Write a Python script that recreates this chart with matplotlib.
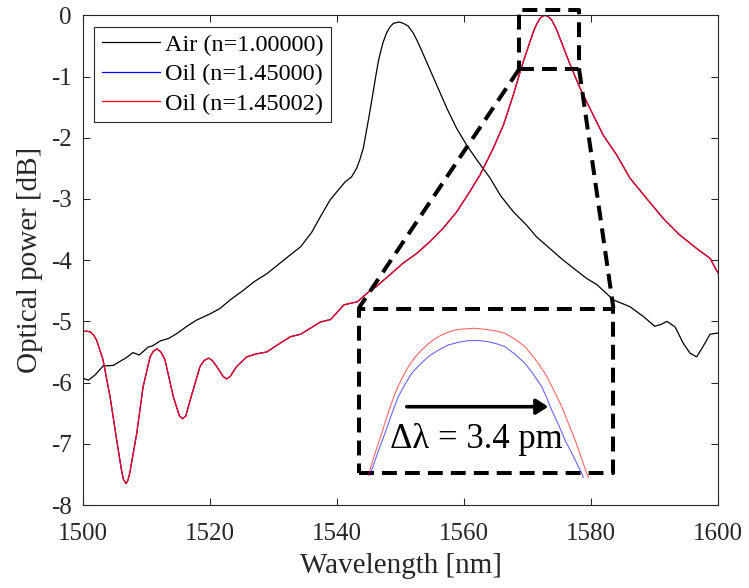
import matplotlib
matplotlib.use("Agg")
import matplotlib.pyplot as plt
from matplotlib.patches import FancyArrowPatch

plt.rcParams['font.family'] = ['Liberation Serif', 'DejaVu Serif']
plt.rcParams['axes.unicode_minus'] = False

# ---------------- data ----------------
air_wl = [1500, 1500.9, 1501.9, 1503.2, 1504.8, 1506.1, 1506.9, 1507.9, 1508.9, 1510.3,
          1511.0, 1512.2, 1513.5, 1514.8, 1516.4, 1517.9, 1520.0, 1521.6, 1523.2, 1525.3,
          1527.0, 1529.0, 1531.5, 1534.3, 1536.0, 1537.4, 1538.9, 1540.0, 1541.3, 1542.3,
          1543.1, 1543.6, 1544.15, 1544.9, 1545.3, 1545.7, 1546.1, 1546.5, 1546.9, 1547.3,
          1547.8, 1548.35, 1548.9, 1549.8, 1550.4, 1551.2, 1552.0, 1552.55, 1553.3,
          1554.1, 1555.7, 1557.3, 1558.85, 1560.4, 1562.0, 1564.1, 1565.7, 1567.75, 1569.85,
          1571.4, 1573.5, 1575.6, 1577.2, 1579.3, 1580.9, 1583.5, 1586.1, 1588.2, 1590.0,
          1591.0, 1591.9, 1593.2, 1594.5, 1595.55, 1596.6, 1597.6, 1598.7, 1600]
air_db = [-5.93, -5.96, -5.88, -5.73, -5.72, -5.64, -5.59, -5.51, -5.55, -5.42,
          -5.40, -5.32, -5.28, -5.20, -5.08, -4.98, -4.88, -4.79, -4.65, -4.49,
          -4.35, -4.22, -4.01, -3.78, -3.55, -3.29, -3.02, -2.88, -2.72, -2.64,
          -2.50, -2.36, -2.17, -1.74, -1.50, -1.25, -1.00, -0.76, -0.58, -0.43,
          -0.29, -0.19, -0.13, -0.11, -0.13, -0.175, -0.29, -0.40, -0.57,
          -0.76, -1.14, -1.52, -1.85, -2.12, -2.36, -2.66, -2.94, -3.21, -3.43,
          -3.62, -3.81, -4.00, -4.13, -4.30, -4.40, -4.65, -4.76, -4.92, -5.08,
          -5.05, -5.00, -5.09, -5.36, -5.52, -5.58, -5.41, -5.21, -5.19]

oil_wl = [1500, 1500.5, 1501.15, 1501.7, 1502.2, 1503.2, 1504.3, 1505.35, 1506.1, 1506.4,
          1506.8, 1507.1, 1507.4, 1508.5, 1509.5, 1510.6, 1511.1, 1511.7, 1512.3, 1512.95,
          1514.25, 1515.2, 1515.7, 1516.2, 1516.9, 1518.45, 1519.1, 1519.8, 1520.4, 1521.1,
          1522.1, 1522.65, 1523.2, 1524.2, 1525.8, 1527.4, 1528.95, 1531.0, 1532.7, 1534.3,
          1537.4, 1539.0, 1541.1, 1543.2, 1545.3, 1546.1, 1549.2, 1550.4, 1552.55, 1554.6,
          1556.7, 1558.85, 1560.9, 1562.5, 1564.6, 1566.2, 1567.75, 1569.3, 1570.9, 1571.4,
          1571.95, 1572.3, 1572.7, 1573.25, 1573.8, 1574.5, 1575.1, 1576.7, 1578.25, 1579.8,
          1581.9, 1584.0, 1586.1, 1588.7, 1591.35, 1593.95, 1596.6, 1598.7, 1600]
oil_db = [-5.17, -5.16, -5.17, -5.22, -5.31, -5.63, -6.23, -6.94, -7.43, -7.58,
          -7.65, -7.60, -7.48, -6.83, -6.07, -5.58, -5.49, -5.45, -5.50, -5.63,
          -6.23, -6.54, -6.59, -6.55, -6.29, -5.74, -5.64, -5.60, -5.64, -5.74,
          -5.90, -5.94, -5.90, -5.74, -5.58, -5.53, -5.50, -5.36, -5.25, -5.21,
          -5.01, -4.97, -4.73, -4.68, -4.49, -4.44, -4.16, -4.05, -3.89, -3.70,
          -3.48, -3.21, -2.88, -2.61, -2.17, -1.79, -1.30, -0.76, -0.27, -0.15,
          -0.05, -0.02, 0.0, -0.02, -0.08, -0.22, -0.38, -0.81, -1.19, -1.52,
          -1.96, -2.28, -2.66, -2.99, -3.32, -3.59, -3.81, -3.97, -4.22]
shift_nm = 0.0034  # 3.4 pm

# zoomed-in view (offset in pm, relative power in mdB)
zoom_red_pm = [-82.9, -78.2, -73.5, -68.8, -64.1, -59.4, -54.7, -50.0, -45.25, -39.4,
               -33.5, -27.6, -21.7, -14.6, -7.6, -0.6, 6.5, 13.6, 20.6, 27.7,
               34.7, 41.8, 47.7, 53.6, 58.3, 63.0, 67.1, 71.2, 72.4]
zoom_red_mdb = [-16.67, -14.5, -12.5, -10.4, -8.5, -7.05, -5.84, -4.9, -4.17, -3.4,
                -2.84, -2.45, -2.17, -2.05, -2.0, -2.1, -2.25, -2.5, -3.1, -3.84,
                -5.05, -6.5, -8.1, -9.84, -11.5, -13.17, -14.8, -16.5, -16.9]
zoom_blue_pm = [-81.7, -76.4, -71.2, -66.5, -61.8, -57.0, -52.3, -46.4, -40.6, -33.5,
                -26.5, -19.4, -12.4, -5.3, 1.8, 7.7, 13.6, 20.6, 27.7, 33.6,
                39.5, 43.0, 46.5, 51.2, 55.9, 61.8, 67.7, 68.8]
zoom_blue_mdb = [-16.67, -14.5, -12.5, -10.6, -8.84, -7.6, -6.5, -5.6, -4.84, -4.18,
                 -3.67, -3.4, -3.24, -3.22, -3.34, -3.55, -3.84, -4.6, -5.5, -6.6,
                 -7.84, -8.95, -10.17, -11.6, -13.17, -14.8, -16.5, -16.9]

labels = ['Air (n=1.00000)', 'Oil (n=1.45000)', 'Oil (n=1.45002)']
x_ticks = [1500, 1520, 1540, 1560, 1580, 1600]
y_ticks = [0, -1, -2, -3, -4, -5, -6, -7, -8]

# zoom box / inset box (data coords of main axes)
zbox_x = [1568.65, 1578.1]
zbox_y = [-0.882, 0.087]
ibox_x = [1543.4, 1583.5]
ibox_y = [-7.48, -4.79]

# ---------------- figure ----------------
W, H = 749, 588
fig = plt.figure(figsize=(W / 100, H / 100), dpi=100)
ax = fig.add_axes([82.7 / W, 1 - 505 / H, (718.3 - 82.7) / W, (505 - 15.3) / H])

axis_col = '#262626'
ax.plot(air_wl, air_db, color='black', lw=0.9, label=labels[0])
ax.plot(oil_wl, oil_db, color='blue', lw=0.9, label=labels[1])
ax.plot([w + shift_nm for w in oil_wl], oil_db, color='red', lw=0.9, label=labels[2])

ax.set_xlim(1500, 1600)
ax.set_ylim(-8, 0)
ax.set_xticks(x_ticks)
ax.set_yticks(y_ticks)
ax.set_xticklabels([str(t) for t in x_ticks])
ax.set_yticklabels([str(t) for t in y_ticks])
ax.tick_params(direction='in', length=5, width=0.75, colors=axis_col,
               labelsize=18, top=True, right=True)
ax.tick_params(axis='x', pad=13)
ax.tick_params(axis='y', pad=8)
for s in ax.spines.values():
    s.set_linewidth(0.8)
    s.set_color(axis_col)

ax.set_xlabel('Wavelength [nm]', fontsize=21, color=axis_col, labelpad=6)
ax.set_ylabel('Optical power [dB]', fontsize=21, color=axis_col, labelpad=6)

leg = ax.legend(loc='upper left', bbox_to_anchor=(94.3 / W, 1 - 26.7 / H),
                bbox_transform=fig.transFigure, borderaxespad=0, fontsize=17.5,
                fancybox=False, framealpha=1, edgecolor=axis_col, handlelength=2.4,
                handletextpad=0.22, borderpad=0.3, labelspacing=0.3)
leg.get_frame().set_linewidth(0.8)

# dashed zoom indicator
dash_kw = dict(color='black', lw=2.9, linestyle=(0, (3.7, 2.0)), clip_on=False,
               solid_capstyle='butt', dash_capstyle='butt', zorder=5)
ax.plot([zbox_x[0], zbox_x[1], zbox_x[1], zbox_x[0], zbox_x[0]],
        [zbox_y[0], zbox_y[0], zbox_y[1], zbox_y[1], zbox_y[0]], **dash_kw)
ax.plot([ibox_x[0], ibox_x[1], ibox_x[1], ibox_x[0], ibox_x[0]],
        [ibox_y[0], ibox_y[0], ibox_y[1], ibox_y[1], ibox_y[0]], **dash_kw)
ax.plot([zbox_x[0], ibox_x[0]], [zbox_y[0], ibox_y[1]], **dash_kw)
ax.plot([zbox_x[1], ibox_x[1]], [zbox_y[0], ibox_y[1]], **dash_kw)

# inset
iax = fig.add_axes([358.3 / W, 1 - 473.3 / H, 255 / W, 165 / H])
iax.set_xlim(-90, 90)
iax.set_ylim(-16.5, 0)
iax.axis('off')
iax.patch.set_alpha(0)
iax.plot(zoom_red_pm, zoom_red_mdb, color='red', lw=0.8, alpha=0.6, clip_on=False)
iax.plot(zoom_blue_pm, zoom_blue_mdb, color='blue', lw=0.8, alpha=0.6, clip_on=False)
arr = FancyArrowPatch((-55.8, -9.84), (44.1, -9.84),
                      arrowstyle='-|>,head_length=0.36,head_width=0.23',
                      mutation_scale=20, lw=2.6, color='black',
                      shrinkA=0, shrinkB=0, zorder=6)
iax.add_patch(arr)
iax.text(-67.6, -14.0, 'Δλ = 3.4 pm', fontsize=25, ha='left', va='baseline',
         color='black')

fig.savefig('out.png', dpi=100)
